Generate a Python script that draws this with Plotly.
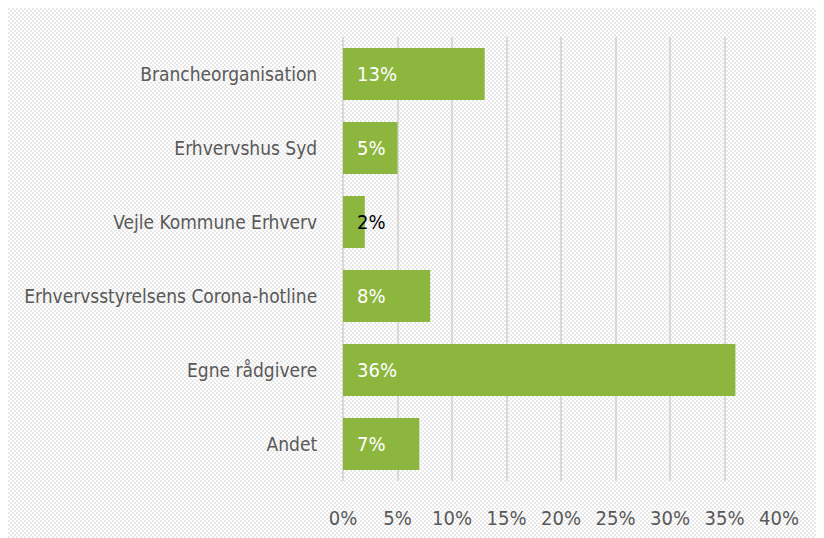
import base64
import plotly.graph_objects as go

categories = ["Brancheorganisation", "Erhvervshus Syd", "Vejle Kommune Erhverv",
              "Erhvervsstyrelsens Corona-hotline", "Egne rådgivere", "Andet"]
values = [0.13, 0.05, 0.02, 0.08, 0.36, 0.07]
label_colors = ["white", "white", "black", "white", "white", "white"]
tick_vals = [0, 0.05, 0.10, 0.15, 0.20, 0.25, 0.30, 0.35, 0.40]
tick_text = ["0%", "5%", "10%", "15%", "20%", "25%", "30%", "35%", "40%"]

W, H = 816, 530
L, R, T, B = 335, 45, 29, 57
pw, ph = W - L - R, H - T - B

FONT = "DejaVu Sans Condensed, Liberation Sans Narrow, sans-serif"

svg = ('<svg xmlns="http://www.w3.org/2000/svg" width="%d" height="%d">'
       '<defs><pattern id="p" width="4" height="4" patternUnits="userSpaceOnUse">'
       '<rect width="4" height="4" fill="#ffffff"/>'
       '<rect width="2" height="2" fill="#e9e9e9"/>'
       '<rect x="2" y="2" width="2" height="2" fill="#e9e9e9"/>'
       '</pattern></defs><rect width="%d" height="%d" fill="url(#p)"/></svg>') % (W, H, W, H)
src = "data:image/svg+xml;base64," + base64.b64encode(svg.encode()).decode()

fig = go.Figure()
fig.add_trace(go.Bar(
    y=categories, x=values, orientation="h",
    marker=dict(color="#8db63f", line=dict(width=0)),
    hoverinfo="skip",
))

for c, v, col in zip(categories, values, label_colors):
    fig.add_annotation(x=0, y=c, xref="x", yref="y", text=f"{round(v*100)}%",
                       showarrow=False, xanchor="left", xshift=12,
                       font=dict(family=FONT, size=20, color=col))

fig.add_layout_image(dict(
    source=src, xref="paper", yref="paper",
    x=-L / pw, y=(H - B) / ph,
    sizex=W / pw, sizey=H / ph,
    xanchor="left", yanchor="top", sizing="stretch", layer="below",
))

fig.update_layout(
    width=W, height=H,
    margin=dict(l=L, r=R, t=T, b=B, autoexpand=False),
    paper_bgcolor="white", plot_bgcolor="rgba(0,0,0,0)",
    showlegend=False, bargap=0.3,
    font=dict(family=FONT, size=19, color="#595959"),
)
fig.update_xaxes(range=[0, 0.4], tickvals=tick_vals, ticktext=tick_text,
                 showgrid=True, gridcolor="#d9d9d9", gridwidth=2,
                 zeroline=True, zerolinecolor="#d9d9d9", zerolinewidth=2,
                 showline=False, ticks="outside", ticklen=19, automargin=False,
                 tickcolor="rgba(0,0,0,0)", tickfont=dict(size=20))
fig.update_yaxes(categoryorder="array", categoryarray=categories[::-1],
                 showgrid=False, showline=False, ticks="outside", ticklen=21,
                 automargin=False,
                 tickcolor="rgba(0,0,0,0)", tickfont=dict(size=19))

fig.write_html("out.html")
